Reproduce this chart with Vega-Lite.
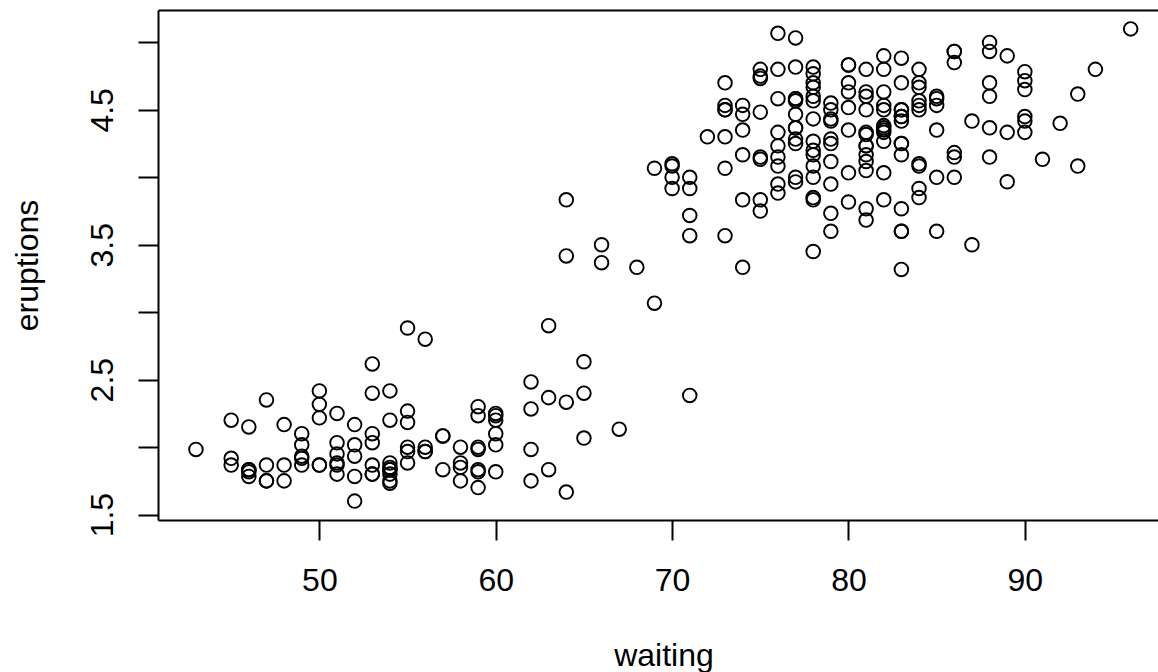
{
  "$schema": "https://vega.github.io/schema/vega-lite/v6.json",
  "autosize": "none",
  "width": 1000,
  "height": 510,
  "padding": {"left": 158, "top": 10, "right": 0, "bottom": 152},
  "background": "white",
  "config": {
    "view": {"stroke": null},
    "font": "Liberation Sans"
  },
  "data": {
    "values": [
      {"eruptions":3.600,"waiting":79},{"eruptions":1.800,"waiting":54},{"eruptions":3.333,"waiting":74},{"eruptions":2.283,"waiting":62},
      {"eruptions":4.533,"waiting":85},{"eruptions":2.883,"waiting":55},{"eruptions":4.700,"waiting":88},{"eruptions":3.600,"waiting":85},
      {"eruptions":1.950,"waiting":51},{"eruptions":4.350,"waiting":85},{"eruptions":1.833,"waiting":54},{"eruptions":3.917,"waiting":84},
      {"eruptions":4.200,"waiting":78},{"eruptions":1.750,"waiting":47},{"eruptions":4.700,"waiting":83},{"eruptions":2.167,"waiting":52},
      {"eruptions":1.750,"waiting":62},{"eruptions":4.800,"waiting":84},{"eruptions":1.600,"waiting":52},{"eruptions":4.250,"waiting":79},
      {"eruptions":1.800,"waiting":51},{"eruptions":1.750,"waiting":47},{"eruptions":3.450,"waiting":78},{"eruptions":3.067,"waiting":69},
      {"eruptions":4.533,"waiting":74},{"eruptions":3.600,"waiting":83},{"eruptions":1.967,"waiting":55},{"eruptions":4.083,"waiting":76},
      {"eruptions":3.850,"waiting":78},{"eruptions":4.433,"waiting":79},{"eruptions":4.300,"waiting":73},{"eruptions":4.467,"waiting":77},
      {"eruptions":3.367,"waiting":66},{"eruptions":4.033,"waiting":80},{"eruptions":3.833,"waiting":74},{"eruptions":2.017,"waiting":52},
      {"eruptions":1.867,"waiting":48},{"eruptions":4.833,"waiting":80},{"eruptions":1.833,"waiting":59},{"eruptions":4.783,"waiting":90},
      {"eruptions":4.350,"waiting":80},{"eruptions":1.883,"waiting":58},{"eruptions":4.567,"waiting":84},{"eruptions":1.750,"waiting":58},
      {"eruptions":4.533,"waiting":73},{"eruptions":3.317,"waiting":83},{"eruptions":3.833,"waiting":64},{"eruptions":2.100,"waiting":53},
      {"eruptions":4.633,"waiting":82},{"eruptions":2.000,"waiting":59},{"eruptions":4.800,"waiting":75},{"eruptions":4.716,"waiting":90},
      {"eruptions":1.833,"waiting":54},{"eruptions":4.833,"waiting":80},{"eruptions":1.733,"waiting":54},{"eruptions":4.883,"waiting":83},
      {"eruptions":3.717,"waiting":71},{"eruptions":1.667,"waiting":64},{"eruptions":4.567,"waiting":77},{"eruptions":4.317,"waiting":81},
      {"eruptions":2.233,"waiting":59},{"eruptions":4.500,"waiting":84},{"eruptions":1.750,"waiting":48},{"eruptions":4.800,"waiting":82},
      {"eruptions":1.817,"waiting":60},{"eruptions":4.400,"waiting":92},{"eruptions":4.167,"waiting":78},{"eruptions":4.700,"waiting":78},
      {"eruptions":2.067,"waiting":65},{"eruptions":4.700,"waiting":73},{"eruptions":4.033,"waiting":82},{"eruptions":1.967,"waiting":56},
      {"eruptions":4.500,"waiting":79},{"eruptions":4.000,"waiting":71},{"eruptions":1.983,"waiting":62},{"eruptions":5.067,"waiting":76},
      {"eruptions":2.017,"waiting":60},{"eruptions":4.567,"waiting":78},{"eruptions":3.883,"waiting":76},{"eruptions":3.600,"waiting":83},
      {"eruptions":4.133,"waiting":75},{"eruptions":4.333,"waiting":82},{"eruptions":4.100,"waiting":70},{"eruptions":2.633,"waiting":65},
      {"eruptions":4.067,"waiting":73},{"eruptions":4.933,"waiting":88},{"eruptions":3.950,"waiting":76},{"eruptions":4.517,"waiting":80},
      {"eruptions":2.167,"waiting":48},{"eruptions":4.000,"waiting":86},{"eruptions":2.200,"waiting":60},{"eruptions":4.333,"waiting":90},
      {"eruptions":1.867,"waiting":50},{"eruptions":4.817,"waiting":78},{"eruptions":1.833,"waiting":63},{"eruptions":4.300,"waiting":72},
      {"eruptions":4.667,"waiting":84},{"eruptions":3.750,"waiting":75},{"eruptions":1.867,"waiting":51},{"eruptions":4.900,"waiting":82},
      {"eruptions":2.483,"waiting":62},{"eruptions":4.367,"waiting":88},{"eruptions":2.100,"waiting":49},{"eruptions":4.500,"waiting":83},
      {"eruptions":4.050,"waiting":81},{"eruptions":1.867,"waiting":47},{"eruptions":4.700,"waiting":84},{"eruptions":1.783,"waiting":52},
      {"eruptions":4.850,"waiting":86},{"eruptions":3.683,"waiting":81},{"eruptions":4.733,"waiting":75},{"eruptions":2.300,"waiting":59},
      {"eruptions":4.900,"waiting":89},{"eruptions":4.417,"waiting":79},{"eruptions":1.700,"waiting":59},{"eruptions":4.633,"waiting":81},
      {"eruptions":2.317,"waiting":50},{"eruptions":4.600,"waiting":85},{"eruptions":1.817,"waiting":59},{"eruptions":4.417,"waiting":87},
      {"eruptions":2.617,"waiting":53},{"eruptions":4.067,"waiting":69},{"eruptions":4.250,"waiting":77},{"eruptions":1.967,"waiting":56},
      {"eruptions":4.600,"waiting":88},{"eruptions":3.767,"waiting":81},{"eruptions":1.917,"waiting":45},{"eruptions":4.500,"waiting":82},
      {"eruptions":2.267,"waiting":55},{"eruptions":4.650,"waiting":90},{"eruptions":1.867,"waiting":45},{"eruptions":4.167,"waiting":83},
      {"eruptions":2.800,"waiting":56},{"eruptions":4.333,"waiting":89},{"eruptions":1.833,"waiting":46},{"eruptions":4.383,"waiting":82},
      {"eruptions":1.883,"waiting":51},{"eruptions":4.933,"waiting":86},{"eruptions":2.033,"waiting":53},{"eruptions":3.733,"waiting":79},
      {"eruptions":4.233,"waiting":81},{"eruptions":2.233,"waiting":60},{"eruptions":4.533,"waiting":82},{"eruptions":4.817,"waiting":77},
      {"eruptions":4.333,"waiting":76},{"eruptions":1.983,"waiting":59},{"eruptions":4.633,"waiting":80},{"eruptions":2.017,"waiting":49},
      {"eruptions":5.100,"waiting":96},{"eruptions":1.800,"waiting":53},{"eruptions":5.033,"waiting":77},{"eruptions":4.000,"waiting":77},
      {"eruptions":2.400,"waiting":65},{"eruptions":4.600,"waiting":81},{"eruptions":3.567,"waiting":71},{"eruptions":4.000,"waiting":70},
      {"eruptions":4.500,"waiting":81},{"eruptions":4.083,"waiting":93},{"eruptions":1.800,"waiting":53},{"eruptions":3.967,"waiting":89},
      {"eruptions":2.200,"waiting":45},{"eruptions":4.150,"waiting":86},{"eruptions":2.000,"waiting":58},{"eruptions":3.833,"waiting":78},
      {"eruptions":3.500,"waiting":66},{"eruptions":4.583,"waiting":76},{"eruptions":2.367,"waiting":63},{"eruptions":5.000,"waiting":88},
      {"eruptions":1.933,"waiting":52},{"eruptions":4.617,"waiting":93},{"eruptions":1.917,"waiting":49},{"eruptions":2.083,"waiting":57},
      {"eruptions":4.583,"waiting":77},{"eruptions":3.333,"waiting":68},{"eruptions":4.167,"waiting":81},{"eruptions":4.333,"waiting":81},
      {"eruptions":4.500,"waiting":73},{"eruptions":2.417,"waiting":50},{"eruptions":4.000,"waiting":85},{"eruptions":4.167,"waiting":74},
      {"eruptions":1.883,"waiting":55},{"eruptions":4.583,"waiting":77},{"eruptions":4.250,"waiting":83},{"eruptions":3.767,"waiting":83},
      {"eruptions":2.033,"waiting":51},{"eruptions":4.433,"waiting":78},{"eruptions":4.083,"waiting":84},{"eruptions":1.833,"waiting":46},
      {"eruptions":4.417,"waiting":83},{"eruptions":2.183,"waiting":55},{"eruptions":4.800,"waiting":81},{"eruptions":1.833,"waiting":57},
      {"eruptions":4.800,"waiting":76},{"eruptions":4.100,"waiting":84},{"eruptions":3.966,"waiting":77},{"eruptions":4.233,"waiting":81},
      {"eruptions":3.500,"waiting":87},{"eruptions":4.366,"waiting":77},{"eruptions":2.250,"waiting":51},{"eruptions":4.667,"waiting":78},
      {"eruptions":2.100,"waiting":60},{"eruptions":4.350,"waiting":82},{"eruptions":4.133,"waiting":91},{"eruptions":1.867,"waiting":53},
      {"eruptions":4.600,"waiting":78},{"eruptions":1.783,"waiting":46},{"eruptions":4.367,"waiting":77},{"eruptions":3.850,"waiting":84},
      {"eruptions":1.933,"waiting":49},{"eruptions":4.500,"waiting":83},{"eruptions":2.383,"waiting":71},{"eruptions":4.700,"waiting":80},
      {"eruptions":1.867,"waiting":49},{"eruptions":3.833,"waiting":75},{"eruptions":3.417,"waiting":64},{"eruptions":4.233,"waiting":76},
      {"eruptions":2.400,"waiting":53},{"eruptions":4.800,"waiting":94},{"eruptions":2.000,"waiting":55},{"eruptions":4.150,"waiting":76},
      {"eruptions":1.867,"waiting":50},{"eruptions":4.267,"waiting":82},{"eruptions":1.750,"waiting":54},{"eruptions":4.483,"waiting":75},
      {"eruptions":4.000,"waiting":78},{"eruptions":4.117,"waiting":79},{"eruptions":4.083,"waiting":78},{"eruptions":4.267,"waiting":78},
      {"eruptions":3.917,"waiting":70},{"eruptions":4.550,"waiting":79},{"eruptions":4.083,"waiting":70},{"eruptions":2.417,"waiting":54},
      {"eruptions":4.183,"waiting":86},{"eruptions":2.217,"waiting":50},{"eruptions":4.450,"waiting":90},{"eruptions":1.883,"waiting":54},
      {"eruptions":1.850,"waiting":54},{"eruptions":4.283,"waiting":77},{"eruptions":3.950,"waiting":79},{"eruptions":2.333,"waiting":64},
      {"eruptions":4.150,"waiting":75},{"eruptions":2.350,"waiting":47},{"eruptions":4.933,"waiting":86},{"eruptions":2.900,"waiting":63},
      {"eruptions":4.583,"waiting":85},{"eruptions":3.833,"waiting":82},{"eruptions":2.083,"waiting":57},{"eruptions":4.367,"waiting":82},
      {"eruptions":2.133,"waiting":67},{"eruptions":4.350,"waiting":74},{"eruptions":2.200,"waiting":54},{"eruptions":4.450,"waiting":83},
      {"eruptions":3.567,"waiting":73},{"eruptions":4.500,"waiting":73},{"eruptions":4.150,"waiting":88},{"eruptions":3.817,"waiting":80},
      {"eruptions":3.917,"waiting":71},{"eruptions":4.450,"waiting":83},{"eruptions":2.000,"waiting":56},{"eruptions":4.283,"waiting":79},
      {"eruptions":4.767,"waiting":78},{"eruptions":4.533,"waiting":84},{"eruptions":1.850,"waiting":58},{"eruptions":4.250,"waiting":83},
      {"eruptions":1.983,"waiting":43},{"eruptions":2.250,"waiting":60},{"eruptions":4.750,"waiting":75},{"eruptions":4.117,"waiting":81},
      {"eruptions":2.150,"waiting":46},{"eruptions":4.417,"waiting":90},{"eruptions":1.817,"waiting":46},{"eruptions":4.467,"waiting":74}
    ]
  },
  "layer": [
    {
      "mark": {"type": "point", "shape": "circle", "filled": false, "stroke": "black", "strokeWidth": 1.9, "size": 185, "opacity": 1},
      "encoding": {
        "x": {
          "field": "waiting", "type": "quantitative",
          "scale": {"domain": [40.85, 97.55], "zero": false, "nice": false},
          "axis": {
            "orient": "bottom", "values": [50, 60, 70, 80, 90], "grid": false,
            "domain": true, "domainColor": "black", "domainWidth": 2,
            "ticks": true, "tickColor": "black", "tickWidth": 2, "tickSize": 20,
            "labelFont": "Liberation Sans", "labelFontSize": 32, "labelColor": "black",
            "labelBaseline": "alphabetic", "labelPadding": 50, "labelFlush": false, "labelOverlap": false,
            "title": "waiting", "titleFont": "Liberation Sans", "titleFontSize": 32, "titleFontWeight": "normal",
            "titleColor": "black", "titleX": 505.5, "titleY": 145, "titleAlign": "center", "titleBaseline": "alphabetic"
          }
        },
        "y": {
          "field": "eruptions", "type": "quantitative",
          "scale": {"domain": [1.46, 5.24], "zero": false, "nice": false},
          "axis": {
            "orient": "left", "values": [1.5, 2, 2.5, 3, 3.5, 4, 4.5, 5], "grid": false,
            "domain": true, "domainColor": "black", "domainWidth": 2,
            "ticks": true, "tickColor": "black", "tickWidth": 2, "tickSize": 20,
            "format": ".1f",
            "labelExpr": "datum.value % 1 == 0.5 ? datum.label : ''",
            "labelFont": "Liberation Sans", "labelFontSize": 32, "labelColor": "black",
            "labelAngle": 270, "labelAlign": "center", "labelBaseline": "alphabetic", "labelPadding": 25.5,
            "labelFlush": false, "labelOverlap": false,
            "title": "eruptions", "titleFont": "Liberation Sans", "titleFontSize": 32, "titleFontWeight": "normal",
            "titleColor": "black", "titleAngle": 270, "titleX": -121, "titleY": 255, "titleAlign": "center", "titleBaseline": "alphabetic"
          }
        }
      }
    },
    {
      "mark": {"type": "point", "opacity": 0},
      "encoding": {
        "x": {
          "field": "waiting", "type": "quantitative",
          "axis": {
            "orient": "top", "grid": false, "domain": true, "domainColor": "black", "domainWidth": 2,
            "ticks": false, "labels": false, "title": null
          }
        }
      }
    }
  ],
  "resolve": {"axis": {"x": "independent"}}
}
